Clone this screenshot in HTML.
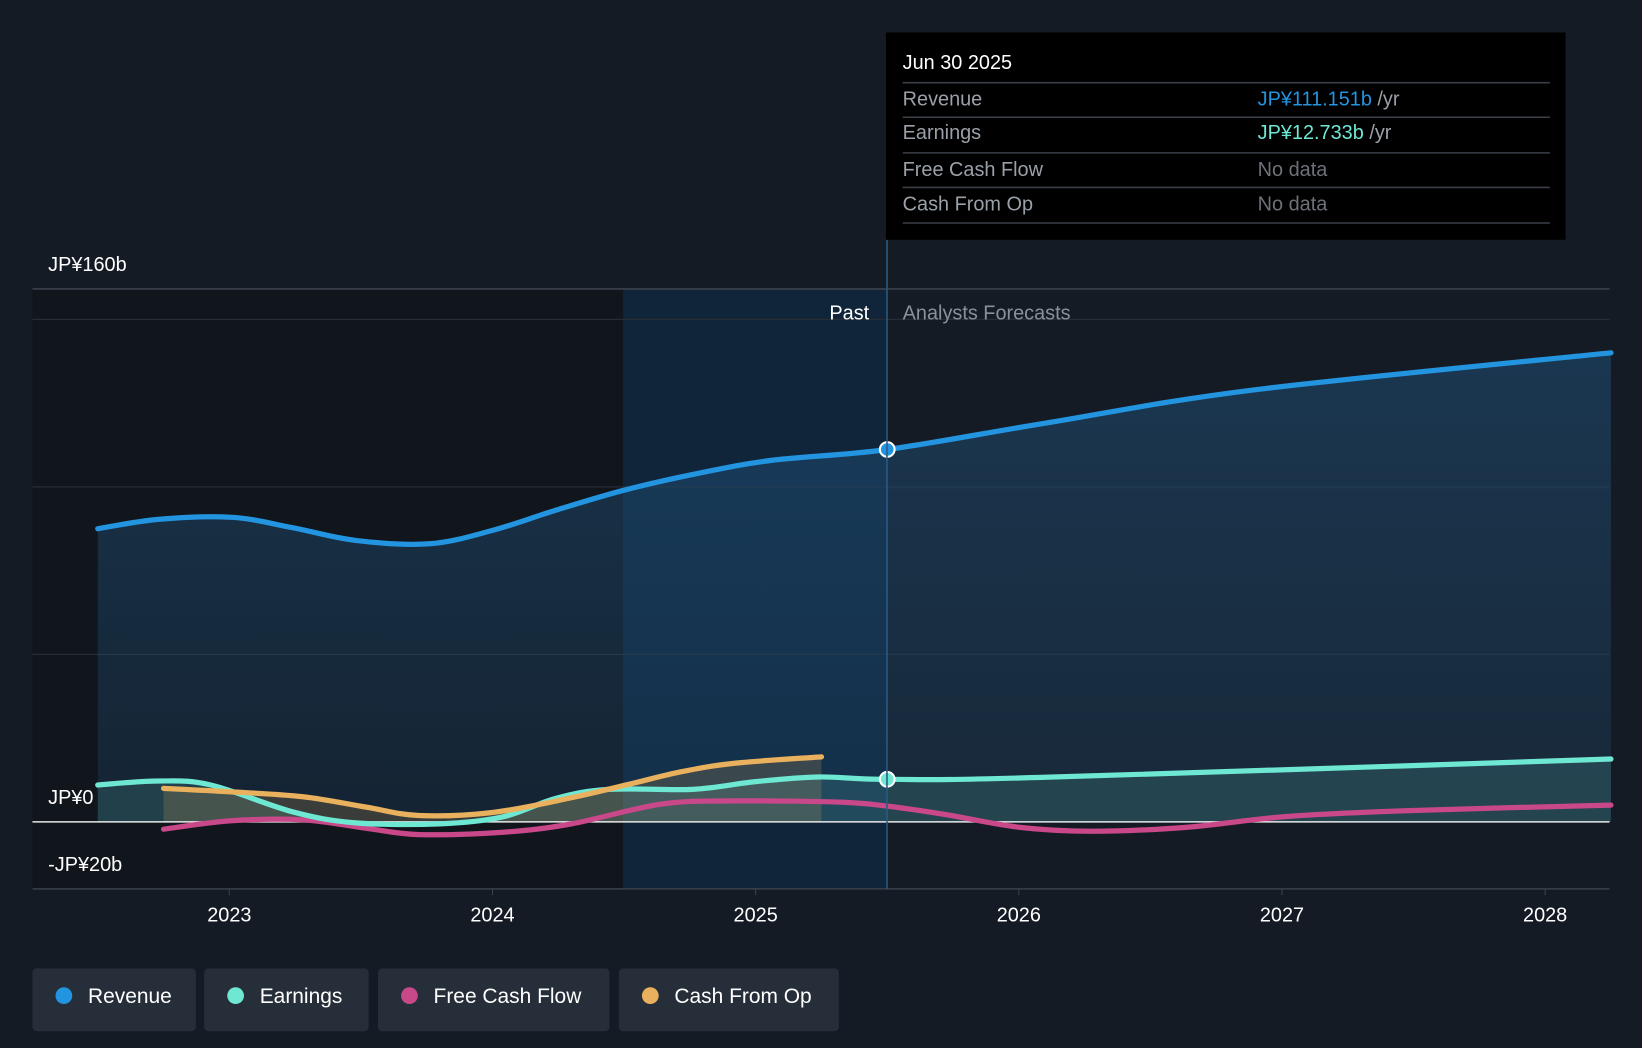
<!DOCTYPE html>
<html><head><meta charset="utf-8"><style>
html,body{margin:0;padding:0;background:#151b24;width:1642px;height:1048px;overflow:hidden}
svg{display:block;font-family:"Liberation Sans","Noto Sans CJK JP",sans-serif}
</style></head><body>
<svg id="chart" width="1642" height="1048" viewBox="0 0 1568 1001" preserveAspectRatio="none" xmlns="http://www.w3.org/2000/svg">
<defs>
<linearGradient id="revFill" x1="0" y1="0" x2="0" y2="1"><stop offset="0" stop-color="#1f4e75" stop-opacity="0.55"/><stop offset="1" stop-color="#1f4e75" stop-opacity="0.25"/></linearGradient>
</defs>
<rect x="0" y="0" width="1568" height="1001" fill="#151b24"/>
<rect x="31" y="276" width="564" height="573" fill="#11151c"/>
<rect x="595" y="276" width="252" height="573" fill="#10253a"/>
<g id="grid"></g>
<g id="areas"></g>
<g id="lines"></g>
<g id="labels"></g>
<line x1="847" y1="229" x2="847" y2="849" stroke="#2a5a85" stroke-width="1.5"/>
<text x="830" y="305" fill="#fff" font-size="19" text-anchor="end">Past</text>
<text x="862" y="305" fill="#8a9099" font-size="19">Analysts Forecasts</text>
<g>
<rect x="846" y="31" width="649" height="198" fill="#000"/>
<text x="862" y="66" fill="#fff" font-size="19">Jun 30 2025</text>
<line x1="862" y1="79" x2="1480" y2="79" stroke="#3a3f47" stroke-width="1.5"/>
<text x="862" y="101" fill="#9aa0a8" font-size="19">Revenue</text>
<text x="1201" y="101" fill="#2394df" font-size="19">JP¥111.151b <tspan fill="#9aa0a8">/yr</tspan></text>
<line x1="862" y1="112" x2="1480" y2="112" stroke="#3a3f47" stroke-width="1.5"/>
<text x="862" y="133" fill="#9aa0a8" font-size="19">Earnings</text>
<text x="1201" y="133" fill="#6ee7d3" font-size="19">JP¥12.733b <tspan fill="#9aa0a8">/yr</tspan></text>
<line x1="862" y1="146" x2="1480" y2="146" stroke="#3a3f47" stroke-width="1.5"/>
<text x="862" y="168" fill="#9aa0a8" font-size="19">Free Cash Flow</text>
<text x="1201" y="168" fill="#6d7178" font-size="19">No data</text>
<line x1="862" y1="179" x2="1480" y2="179" stroke="#3a3f47" stroke-width="1.5"/>
<text x="862" y="201" fill="#9aa0a8" font-size="19">Cash From Op</text>
<text x="1201" y="201" fill="#6d7178" font-size="19">No data</text>
<line x1="862" y1="213" x2="1480" y2="213" stroke="#3a3f47" stroke-width="1.5"/>
</g>
<g id="legend"></g>
</svg>
<script>
const yTicks=[50,100,150];
const yLabels=[{v:160,t:"JP¥160b"},{v:0,t:"JP¥0"},{v:-20,t:"-JP¥20b"}];
const xYears=[2023,2024,2025,2026,2027,2028];
const revT=[2022.5,2022.73,2023.01,2023.24,2023.48,2023.76,2024.0,2024.24,2024.5,2024.78,2025.07,2025.5,2026.1,2026.9,2028.25];
const revV=[87.5,90.3,90.9,87.8,84,83,87,93,99,104,108,111.15,119,129,140];
const earnT=[2022.5,2022.73,2022.93,2023.24,2023.48,2023.8,2024.04,2024.24,2024.44,2024.76,2025.0,2025.24,2025.5,2026.1,2028.25];
const earnV=[11,12.2,11,3,-0.3,-0.6,1.5,7,9.7,9.7,12,13.4,12.7,13.3,18.75];
const fcfT=[2022.75,2023.0,2023.28,2023.52,2023.72,2024.04,2024.3,2024.64,2024.92,2025.32,2025.5,2025.72,2026.0,2026.28,2026.64,2027.02,2027.5,2028.25];
const fcfV=[-2.2,0.3,0.6,-1.9,-3.8,-3.1,-0.6,5.3,6.25,5.9,4.7,2.2,-1.6,-2.8,-1.6,1.6,3.4,5];
const cfoT=[2022.75,2023.0,2023.28,2023.52,2023.72,2024.0,2024.3,2024.52,2024.72,2024.92,2025.25];
const cfoV=[10,9,7.5,4.4,1.9,2.8,7.2,11.25,15,17.5,19.4];
const legendNames=["Revenue","Earnings","Free Cash Flow","Cash From Op"];
const colors=["#2394df","#6ee7d3","#c8488a","#e9b15d"];

const NS="http://www.w3.org/2000/svg";
const X=t=>219+(t-2023)*251.3;
const Y=v=>785-v*3.2;
function mk(tag,attrs,parent){const e=document.createElementNS(NS,tag);for(const k in attrs)e.setAttribute(k,attrs[k]);document.getElementById(parent).appendChild(e);return e;}
function smooth(T,V){const p=T.map((t,i)=>[X(t),Y(V[i])]);let d="M"+p[0][0]+","+p[0][1];
for(let i=0;i<p.length-1;i++){const p0=p[i-1]||p[i],p1=p[i],p2=p[i+1],p3=p[i+2]||p2;
const c1=[p1[0]+(p2[0]-p0[0])/6,p1[1]+(p2[1]-p0[1])/6],c2=[p2[0]-(p3[0]-p1[0])/6,p2[1]-(p3[1]-p1[1])/6];
d+=` C${c1[0]},${c1[1]} ${c2[0]},${c2[1]} ${p2[0]},${p2[1]}`;}return d;}
yTicks.forEach(v=>{const l=mk("line",{x1:31,x2:1537,y1:Y(v),y2:Y(v),stroke:"#262d37","stroke-width":1.2},"grid");

});
const topBorder=mk("line",{x1:31,x2:1537,y1:276,y2:276,stroke:"#3a414b","stroke-width":1.5},"grid");


const botAxis=mk("line",{x1:31,x2:1537,y1:Y(-20),y2:Y(-20),stroke:"#3a414b","stroke-width":1.5},"grid");


yLabels.forEach(o=>{let yy=Y(o.v)-17;if(o.v===160)yy=259;
const t=mk("text",{x:46,y:yy,fill:"#fff","font-size":19},"labels");
t.textContent=o.t;

});
xYears.forEach(y=>{const t=mk("text",{x:X(y),y:880,fill:"#fff","font-size":19,"text-anchor":"middle"},"labels");t.textContent=y;


const k=mk("line",{x1:X(y),x2:X(y),y1:849,y2:855,stroke:"#3a414b"},"labels");

});
function area(T,V,fill,name){const d=smooth(T,V)+` L${X(T[T.length-1])},${Y(0)} L${X(T[0])},${Y(0)} Z`;
const a=mk("path",{d:d,fill:fill},"areas");

}
area(revT,revV,"url(#revFill)","revenue-area");
area(earnT,earnV,"rgba(110,231,211,0.15)","earnings-area");
area(cfoT,cfoV,"rgba(233,177,93,0.18)","cash-from-op-area");
const zeroLine=mk("line",{x1:31,x2:1537,y1:Y(0),y2:Y(0),stroke:"#e8e8e8","stroke-width":1.5},"areas");


function line(T,V,c,name){const l=mk("path",{d:smooth(T,V),fill:"none",stroke:c,"stroke-width":5,"stroke-linecap":"round"},"lines");

}
line(fcfT,fcfV,colors[2],"free-cash-flow-line");
line(earnT,earnV,colors[1],"earnings-line");
line(cfoT,cfoV,colors[3],"cash-from-op-line");
line(revT,revV,colors[0],"revenue-line");
const d1=mk("circle",{cx:X(2025.5),cy:Y(revV[11]),r:7,fill:colors[0],stroke:"#fff","stroke-width":2},"lines");


const d2=mk("circle",{cx:X(2025.5),cy:Y(earnV[12]),r:7,fill:colors[1],stroke:"#fff","stroke-width":2},"lines");


const lx=[31,195,361,591],lw=[156,157,221,210];
legendNames.forEach((n,i)=>{const g=mk("g",{},"legend");


const r=document.createElementNS(NS,"rect");r.setAttribute("x",lx[i]);r.setAttribute("y",925);r.setAttribute("width",lw[i]);r.setAttribute("height",60);r.setAttribute("rx",4);r.setAttribute("fill","#262e39");g.appendChild(r);
const c=document.createElementNS(NS,"circle");c.setAttribute("cx",lx[i]+30);c.setAttribute("cy",951);c.setAttribute("r",8);c.setAttribute("fill",colors[i]);g.appendChild(c);
const t=document.createElementNS(NS,"text");t.setAttribute("x",lx[i]+53);t.setAttribute("y",958);t.setAttribute("fill","#fff");t.setAttribute("font-size",20);t.textContent=n;g.appendChild(t);});
</script>
</body></html>
